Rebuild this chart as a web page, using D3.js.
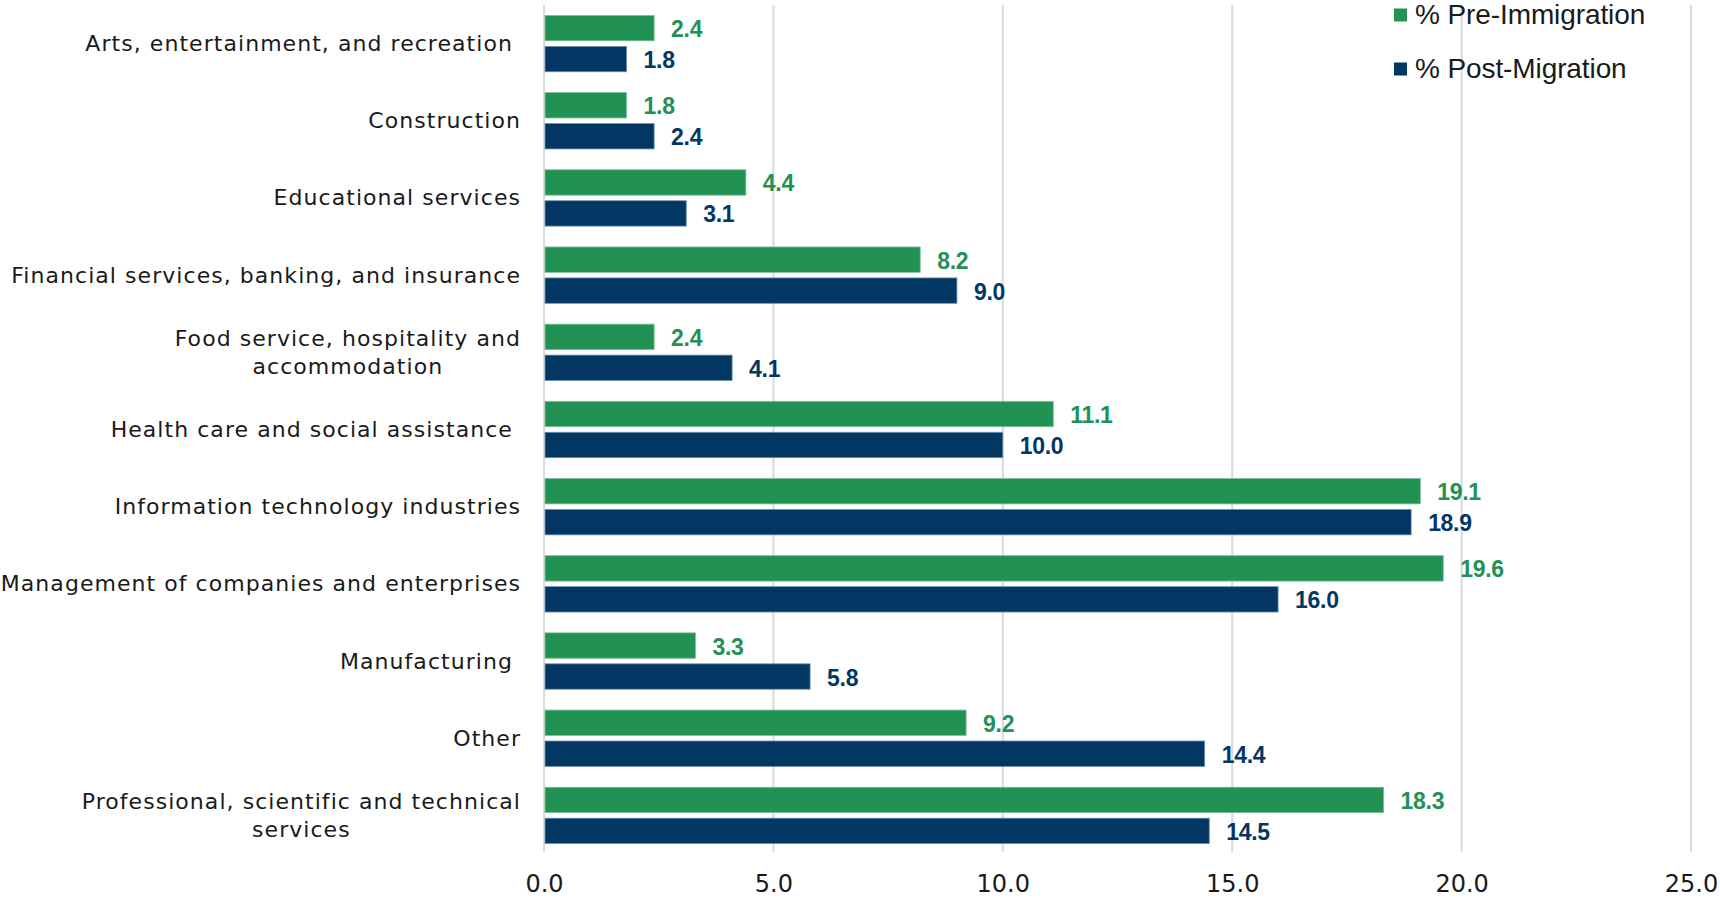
<!DOCTYPE html>
<html>
<head>
<meta charset="utf-8">
<script src="https://cdn.jsdelivr.net/npm/d3@7"></script>
<style>
  html, body { margin: 0; padding: 0; background: #ffffff; }
  svg { display: block; }
  .cat { white-space: pre; }
</style>
</head>
<body>
<svg id="chart" width="1720" height="902"></svg>
<script>
// ---- Data ----
const categories = [
  "Arts, entertainment, and recreation ",
  "Construction",
  "Educational services",
  "Financial services, banking, and insurance",
  "Food service, hospitality and|accommodation",
  "Health care and social assistance ",
  "Information technology industries",
  "Management of companies and enterprises",
  "Manufacturing ",
  "Other",
  "Professional, scientific and technical|services"
];
const preImmigration = [2.4, 1.8, 4.4, 8.2, 2.4, 11.1, 19.1, 19.6, 3.3, 9.2, 18.3];
const postMigration  = [1.8, 2.4, 3.1, 9.0, 4.1, 10.0, 18.9, 16.0, 5.8, 14.4, 14.5];
const seriesNames = ["% Pre-Immigration", "% Post-Migration"];
const seriesColors = ["#229154", "#023764"];
const xTicks = [0, 5, 10, 15, 20, 25];

// ---- Layout ----
const svg = d3.select("#chart");
const plotLeft = 544, plotRight = 1691, plotTop = 5, plotBottom = 854;

const x = d3.scaleLinear().domain([0, 25]).range([plotLeft, plotRight]);
const y0 = d3.scaleBand().domain(categories).range([plotTop, plotBottom])
  .paddingInner(0.27).paddingOuter(0.135);
const y1 = d3.scaleBand().domain(seriesNames).range([0, y0.bandwidth()])
  .paddingInner(0.18).paddingOuter(0);

// gridlines
const grid = svg.append("g");
grid.selectAll("line").data(xTicks).join("line")
  .attr("x1", d => x(d)).attr("x2", d => x(d))
  .attr("y1", plotTop).attr("y2", plotBottom - 2)
  .attr("stroke", "#d9d9d9").attr("stroke-width", 2);

// x axis tick labels
const xAxis = d3.axisBottom(x).tickValues(xTicks).tickFormat(d3.format(".1f")).tickSize(0);
const xa = svg.append("g").attr("transform", `translate(0, 872)`).call(xAxis);
xa.select(".domain").remove();
xa.selectAll("text")
  .attr("font-family", "'DejaVu Sans', Verdana, sans-serif")
  .attr("font-size", 24).attr("fill", "#1a1a1a").attr("dy", "0.85em").attr("y", 0);

// bars
const rows = categories.map((c, i) => ({ cat: c, vals: [preImmigration[i], postMigration[i]] }));
const groups = svg.append("g").selectAll("g").data(rows).join("g")
  .attr("transform", d => `translate(0, ${y0(d.cat)})`);

groups.selectAll("rect").data(d => d.vals.map((v, k) => ({ v, k })))
  .join("rect")
  .attr("x", x(0) + 1)
  .attr("y", d => y1(seriesNames[d.k]))
  .attr("width", d => x(d.v) - x(0) - 1)
  .attr("height", y1.bandwidth())
  .attr("fill", d => seriesColors[d.k])
  .attr("stroke", d => d.k === 0 ? "#7cbf97" : "#6d8fae")
  .attr("stroke-width", 0.8);

groups.selectAll("text.val").data(d => d.vals.map((v, k) => ({ v, k })))
  .join("text")
  .attr("class", "val")
  .attr("x", d => x(d.v) + 17)
  .attr("y", d => y1(seriesNames[d.k]) + y1.bandwidth() / 2 + 1)
  .attr("dominant-baseline", "central")
  .attr("font-family", "'Liberation Sans', Arial, sans-serif")
  .attr("font-weight", "bold")
  .attr("font-size", 23)
  .attr("letter-spacing", -0.3)
  .attr("fill", d => seriesColors[d.k])
  .text(d => d3.format(".1f")(d.v));

// category labels
const labelRight = 521;
const catG = svg.append("g");
categories.forEach(c => {
  const lines = c.split("|");
  const cy = y0(c) + y0.bandwidth() / 2;
  const lh = 28;
  const t0 = catG.append("text").attr("class", "cat")
    .attr("font-family", "'DejaVu Sans', Verdana, sans-serif")
    .attr("font-size", 22).attr("letter-spacing", 1.05).attr("fill", "#1a1a1a")
    .attr("text-anchor", "end").attr("dominant-baseline", "central")
    .attr("x", labelRight)
    .attr("y", cy - (lines.length - 1) * lh / 2)
    .text(lines[0]);
  if (lines.length > 1) {
    const w = t0.node().getComputedTextLength();
    for (let i = 1; i < lines.length; i++) {
      catG.append("text").attr("class", "cat")
        .attr("font-family", "'DejaVu Sans', Verdana, sans-serif")
        .attr("font-size", 22).attr("letter-spacing", 1.05).attr("fill", "#1a1a1a")
        .attr("text-anchor", "middle").attr("dominant-baseline", "central")
        .attr("x", labelRight - w / 2)
        .attr("y", cy - (lines.length - 1) * lh / 2 + i * lh)
        .text(lines[i]);
    }
  }
});

// legend
const legend = svg.append("g");
const legY = [15, 69];
seriesNames.forEach((s, k) => {
  legend.append("rect").attr("x", 1394).attr("y", legY[k] - 6.5)
    .attr("width", 13).attr("height", 13).attr("fill", seriesColors[k]);
  legend.append("text").attr("x", 1415).attr("y", legY[k] + 9)
    .attr("font-family", "'Liberation Sans', Arial, sans-serif")
    .attr("font-size", 28).attr("letter-spacing", -0.1).attr("fill", "#1a1a1a")
    .text(s);
});
</script>
</body>
</html>
